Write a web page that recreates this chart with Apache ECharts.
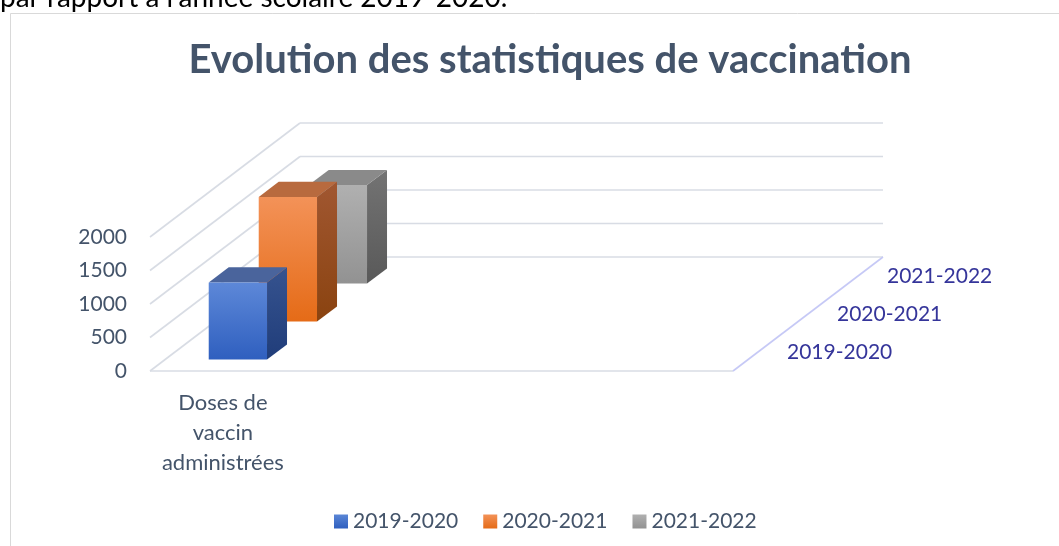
<!DOCTYPE html>
<html>
<head>
<meta charset="utf-8">
<script src="https://cdn.jsdelivr.net/npm/echarts@6/dist/echarts.min.js"></script>
<style>
html,body{margin:0;padding:0;background:#fff;}
#chart{width:1059px;height:546px;}
</style>
</head>
<body>
<div id="chart"></div>
<script>
// ---- data ----
const categories = ['Doses de\nvaccin\nadministrées', '', '', ''];
const seriesNames = ['2019-2020', '2020-2021', '2021-2022'];
const values2019 = [1150];
const values2020 = [1860];
const values2021 = [1470];
const yTicks = [0, 500, 1000, 1500, 2000];
const titleText = 'Evolution des statistiques de vaccination';
const topText = "par rapport à l'année scolaire 2019-2020.";

// ---- styling / projection ----
const SLOT_DX = 50, SLOT_DY = -38, NSLOT = 3;
const FONT = 'Lato, "Open Sans", sans-serif';
const TEXT_COLOR = '#44546a';
const G = echarts.graphic;
const lg = (a, b) => new G.LinearGradient(0, 0, 0, 1, [{offset: 0, color: a}, {offset: 1, color: b}]);

const palettes = [
  {front: lg('#5d88d8', '#2f5fbf'), side: lg('#36538f', '#203d7a'), top: '#4a649c', legend: lg('#5a86d6', '#2f5fbf')},
  {front: lg('#f39258', '#e56b17'), side: lg('#a15731', '#8a4310'), top: '#b86a3e', legend: lg('#f39258', '#e56b17')},
  {front: lg('#b0b0b0', '#929292'), side: lg('#737373', '#595959'), top: '#8a8a8a', legend: lg('#b0b0b0', '#929292')}
];

function barRenderer(slot) {
  const p = palettes[slot];
  return function (params, api) {
    const cat = api.value(0), val = api.value(1);
    const base = api.coord([cat, 0]);
    const top = api.coord([cat, val]);
    const band = api.size([1, 0])[0];
    const w = band * 0.4;
    const ox = SLOT_DX * (slot + 0.3), oy = SLOT_DY * (slot + 0.3);
    const dx = SLOT_DX * 0.4, dy = SLOT_DY * 0.4;
    const x1 = base[0] - w / 2 + ox, x2 = x1 + w;
    const yb = base[1] + oy, yt = top[1] + oy;
    return {
      type: 'group',
      children: [
        {type: 'polygon', shape: {points: [[x2, yt], [x2 + dx, yt + dy], [x2 + dx, yb + dy], [x2, yb]]}, style: {fill: p.side}},
        {type: 'polygon', shape: {points: [[x1, yt], [x1 + dx, yt + dy], [x2 + dx, yt + dy], [x2, yt]]}, style: {fill: p.top}},
        {type: 'rect', shape: {x: x1, y: yt, width: w, height: yb - yt}, style: {fill: p.front}}
      ]
    };
  };
}

function wallRenderer(params, api) {
  const v = api.value(1);
  const cs = params.coordSys;
  const y = api.coord([0, v])[1];
  const x0 = cs.x, x1 = cs.x + cs.width;
  const DX = SLOT_DX * NSLOT, DY = SLOT_DY * NSLOT;
  const gs = {stroke: '#d8dce4', lineWidth: 1.6, fill: null};
  const children = [
    {type: 'line', shape: {x1: x0, y1: y, x2: x0 + DX, y2: y + DY}, style: gs},
    {type: 'line', shape: {x1: x0 + DX, y1: y + DY, x2: x1 + DX, y2: y + DY}, style: gs}
  ];
  if (v === 0) {
    children.push({type: 'line', shape: {x1: x0, y1: y, x2: x1, y2: y}, style: gs});
    children.push({type: 'line', shape: {x1: x1, y1: y, x2: x1 + DX, y2: y + DY}, style: {stroke: '#c6c9f6', lineWidth: 1.6}});
  }
  return {type: 'group', children: children};
}

function depthLabelRenderer(params, api) {
  const i = api.value(2);
  const cs = params.coordSys;
  const xr = cs.x + cs.width, yb = cs.y + cs.height;
  return {
    type: 'text',
    x: xr + SLOT_DX * (i + 0.5) + 29,
    y: yb + SLOT_DY * (i + 0.5),
    style: {text: seriesNames[i], fill: '#35359a', fontFamily: FONT, fontSize: 21, align: 'left', verticalAlign: 'middle'}
  };
}

const valueSets = [values2019, values2020, values2021];

const chart = echarts.init(document.getElementById('chart'), null, {renderer: 'canvas'});
chart.setOption({
  animation: false,
  backgroundColor: '#ffffff',
  title: {
    text: titleText, left: 545, textAlign: 'center', top: 35,
    textStyle: {fontFamily: FONT, fontWeight: 'bold', fontSize: 40, color: TEXT_COLOR}
  },
  graphic: [
    {type: 'rect', shape: {x: 10.5, y: 13.5, width: 1100, height: 600}, style: {fill: null, stroke: '#d9d9d9', lineWidth: 1}, silent: true},
    {type: 'text', x: 0, y: 11.5, style: {text: topText, fill: '#000', fontFamily: FONT, fontSize: 28, verticalAlign: 'bottom'}, silent: true}
  ],
  legend: {
    data: seriesNames, left: 334, top: 511, padding: 0, icon: 'rect', itemWidth: 14, itemHeight: 14, itemGap: 25,
    textStyle: {fontFamily: FONT, fontSize: 21, color: TEXT_COLOR}
  },
  grid: {left: 150, right: 1059 - 733, top: 237, bottom: 546 - 371},
  xAxis: {
    type: 'category', data: categories,
    axisLine: {show: false}, axisTick: {show: false}, splitLine: {show: false},
    axisLabel: {interval: 0, margin: 17, fontFamily: FONT, fontSize: 22, lineHeight: 30, color: TEXT_COLOR}
  },
  yAxis: {
    type: 'value', min: 0, max: 2000, interval: 500,
    axisLine: {show: false}, axisTick: {show: false}, splitLine: {show: false},
    axisLabel: {margin: 23, fontFamily: FONT, fontSize: 21, color: TEXT_COLOR, formatter: v => String(v)}
  },
  series: [
    {type: 'custom', name: 'walls', z: 1, renderItem: wallRenderer, data: yTicks.map(v => [0, v]), silent: true},
    {type: 'custom', name: 'depth', z: 1, renderItem: depthLabelRenderer, data: seriesNames.map((n, i) => [0, 0, i]), silent: true}
  ].concat(seriesNames.map((name, s) => ({
    type: 'custom', name: name, z: 10 - s,
    itemStyle: {color: palettes[s].legend},
    renderItem: barRenderer(s),
    data: valueSets[s].map((v, i) => [i, v])
  })))
});
</script>
</body>
</html>
